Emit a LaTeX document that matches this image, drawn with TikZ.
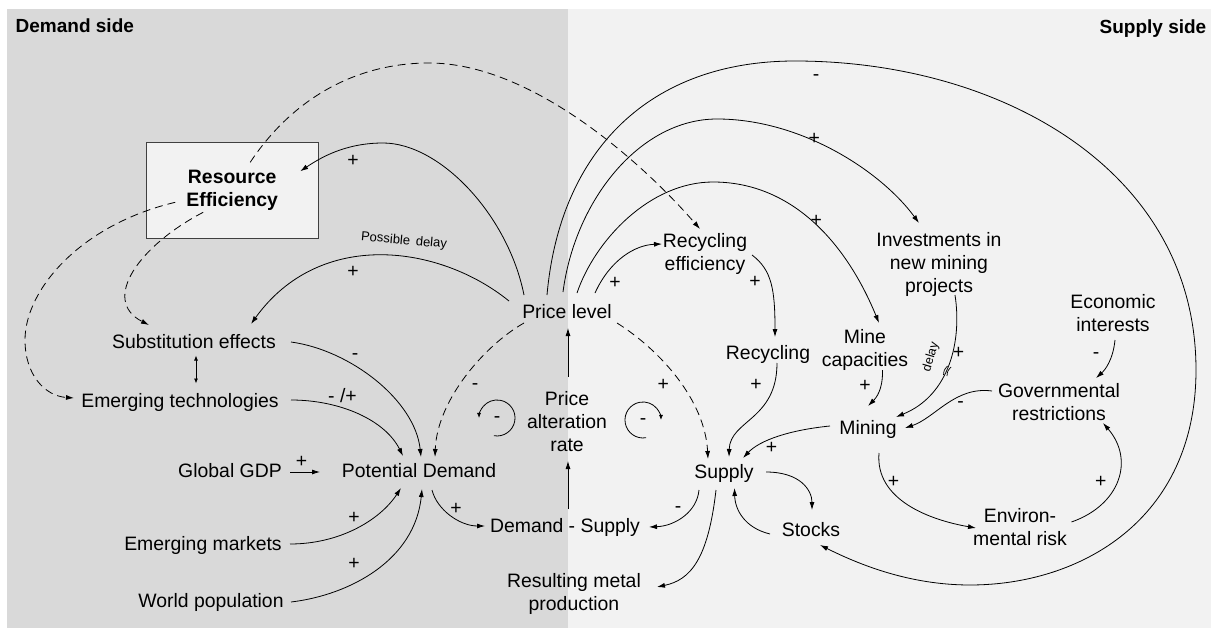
\documentclass[tikz,border=0pt]{standalone}
\usepackage{fontspec}
\setmainfont{Liberation Sans}
\usetikzlibrary{arrows.meta,calc}
\definecolor{demandbg}{HTML}{D9D9D9}
\definecolor{supplybg}{HTML}{F2F2F2}
\definecolor{boxline}{HTML}{404040}

\begin{document}
\begin{tikzpicture}[x=1pt,y=-1pt,
  txt/.style={font=\fontsize{19.4}{23}\selectfont, align=center, anchor=base, inner sep=0pt},
  sgn/.style={font=\fontsize{19.4}{23}\selectfont, inner sep=0pt},
  small/.style={font=\fontsize{13}{15}\selectfont, inner sep=0pt},
  conn/.style={line width=0.8pt, -{Latex[length=8pt,width=5pt]}},
  dconn/.style={conn, dash pattern=on 8pt off 5pt},
  loopar/.style={line width=0.8pt, -{Latex[length=5pt,width=4pt]}},
  twoway/.style={line width=0.8pt, {Latex[length=5pt,width=4pt]}-{Latex[length=5pt,width=4pt]}}
]
\useasboundingbox (0,0) rectangle (1211,629);
\fill[white] (0,0) rectangle (1211,629);
% the two halves of the diagram
\fill[demandbg] (7,9) rectangle (568,628);
\fill[supplybg] (568,9) rectangle (1211,628);

\node[txt, anchor=base west, font=\fontsize{19}{23}\selectfont\bfseries] (dside) at (15.5,32.3) {Demand side};
\node[txt, anchor=base east, font=\fontsize{19}{23}\selectfont\bfseries] (sside) at (1206.5,33) {Supply side};

% variables (the base of a multi-line node is the baseline of its last line)
\node[draw=boxline, fill=supplybg, line width=0.8pt, minimum width=172pt, minimum height=96pt,
      inner sep=0pt, align=center, font=\fontsize{19.4}{23}\selectfont\bfseries] (re) at (232.2,190.3) {Resource\\Efficiency};
\node[txt] (se)  at (194,348)  {Substitution effects};
\node[txt] (et)  at (180,407)  {Emerging technologies};
\node[txt] (pl)  at (567,318)  {Price level};
\node[txt] (par) at (567,451)  {Price\\alteration\\rate};
\node[txt] (gdp) at (230,477)  {Global GDP};
\node[txt] (pd)  at (419,477)  {Potential Demand};
\node[txt] (em)  at (203,550)  {Emerging markets};
\node[txt] (wp)  at (211,607)  {World population};
\node[txt] (ds)  at (565,532)  {Demand - Supply};
\node[txt] (rmp) at (574,610)  {Resulting metal\\production};
\node[txt] (su)  at (724,478)  {Supply};
\node[txt] (st)  at (811,536)  {Stocks};
\node[txt] (ref) at (705,270)  {Recycling\\efficiency};
\node[txt] (rec) at (768,359)  {Recycling};
\node[txt] (mc)  at (865,366)  {Mine\\capacities};
\node[txt] (inv) at (939,292)  {Investments in\\new mining\\projects};
\node[txt] (ei)  at (1113,331) {Economic\\interests};
\node[txt] (gr)  at (1059,420) {Governmental\\restrictions};
\node[txt] (mi)  at (868,434)  {Mining};
\node[txt] (er)  at (1020,545) {Environ-\\mental risk};

% dashed links out of resource efficiency
\draw[dconn] ($(re.center)+(18,-28)$) .. controls (295,95) and (360,63) .. (429,63)
   .. controls (530,63) and (640,160) .. ($(ref.base)+(-5,-41)$);
\draw[dconn] ($(re.center)+(-29,22)$) .. controls (140,245) and (100,300) .. ($(se.base)+(-45,-23)$);
\draw[dconn] ($(re.center)+(-57,12)$) .. controls (80,225) and (25,290) .. (25,340)
   .. controls (25,375) and (45,396) .. ($(et.base)+(-106,-9)$);

% links out of the price level
\draw[conn] ($(pl.base)+(-43,-23)$) .. controls (508,215) and (440,143) .. (383,143)
   .. controls (345,143) and (320,158) .. ($(re.center)+(68,-19)$);
\draw[conn] ($(pl.base)+(-58,-17)$) .. controls (440,245) and (320,228) .. ($(se.base)+(57,-24)$);
\draw[conn] ($(pl.base)+(-20,-23)$) .. controls (560,150) and (650,61) .. (795,61)
   .. controls (1000,61) and (1196,170) .. (1196,370)
   .. controls (1196,520) and (1080,585) .. (970,585)
   .. controls (910,585) and (860,565) .. ($(st.base)+(9,9)$);
\draw[conn] ($(pl.base)+(-4,-26)$) .. controls (575,200) and (640,119) .. (717,119)
   .. controls (800,119) and (880,170) .. ($(inv.base)+(-20,-69)$);
\draw[conn] ($(pl.base)+(10,-25)$) .. controls (595,240) and (650,182) .. (713,182)
   .. controls (790,182) and (845,240) .. ($(mc.base)+(14,-43)$);
\draw[conn] ($(pl.base)+(28,-25)$) .. controls (610,260) and (635,245) .. ($(ref.base)+(-43,-26)$);
\draw[dconn] ($(pl.base)+(50,5)$) .. controls (660,350) and (705,400) .. ($(su.base)+(-16,-19)$);
\draw[dconn] ($(pl.base)+(-43,5)$) .. controls (485,345) and (437,400) .. ($(pd.base)+(16,-20)$);

% price adjustment chain
\draw[conn] ($(par.base)+(1,-74)$) -- ($(pl.base)+(1,10)$);
\draw[conn] ($(ds.base)+(3,-23)$) -- ($(par.base)+(1,10)$);

% demand side
\draw[twoway] ($(se.base)+(2,7.5)$) -- ($(et.base)+(16,-23.5)$);
\draw[conn] ($(se.base)+(97,-6)$) .. controls (350,350) and (415,400) .. ($(pd.base)+(2,-20)$);
\draw[conn] ($(et.base)+(111,-7)$) .. controls (340,400) and (385,420) .. ($(pd.base)+(-16,-21)$);
\draw[conn] ($(gdp.base)+(60,-5)$) -- ($(pd.base)+(-99,-5)$);
\draw[conn] ($(em.base)+(87,-6)$) .. controls (340,544) and (380,520) .. ($(pd.base)+(-18,11)$);
\draw[conn] ($(wp.base)+(80,-5)$) .. controls (350,595) and (415,560) .. ($(pd.base)+(3,12)$);
\draw[conn] ($(pd.base)+(13,13)$) .. controls (437,510) and (460,526) .. ($(ds.base)+(-80,-6)$);

% supply side
\draw[conn] ($(ref.base)+(47,-15)$) .. controls (772,270) and (775,290) .. ($(rec.base)+(7,-22)$);
\draw[conn] ($(rec.base)+(9,4)$) .. controls (777,420) and (730,420) .. ($(su.base)+(5,-21)$);
\draw[conn] ($(su.base)+(-25,12)$) .. controls (697,512) and (675,526) .. ($(ds.base)+(84,-5)$);
\draw[conn] ($(su.base)+(-8,12)$) .. controls (708,560) and (690,580) .. ($(rmp.base)+(83,-23)$);
\draw[conn] ($(su.base)+(42,-6)$) .. controls (800,472) and (812,490) .. ($(st.base)+(1,-26)$);
\draw[conn] ($(st.base)+(-41,-2)$) .. controls (745,528) and (735,510) .. ($(su.base)+(10.5,10)$);
\draw[conn] ($(mi.base)+(-38,-8)$) .. controls (790,430) and (760,440) .. ($(su.base)+(19,-20)$);
\draw[conn] ($(mc.base)+(17.5,4)$) .. controls (883,390) and (876,398) .. ($(mi.base)+(0,-28)$);
\draw[conn] ($(inv.base)+(16,3)$) .. controls (962,340) and (950,395) .. ($(mi.base)+(28,-17)$);
\draw[conn] ($(gr.base)+(-67,-29)$) .. controls (955,386) and (935,418) .. ($(mi.base)+(37,-6)$);
\draw[conn] ($(ei.base)+(2,9)$) .. controls (1113,360) and (1105,370) .. ($(gr.base)+(37,-42)$);
\draw[conn] ($(mi.base)+(11,19)$) .. controls (875,500) and (930,520) .. ($(er.base)+(-44,-17)$);
\draw[conn] ($(er.base)+(51.5,-23)$) .. controls (1120,505) and (1135,460) .. ($(gr.base)+(44,3)$);

% delay mark on the investment link
\draw[line width=0.7pt] (943.5,375) .. controls (944,370) .. (947.5,366);
\draw[line width=0.7pt] (947,376) .. controls (947.5,371) .. (951,367);
\node[small, rotate=74, font=\fontsize{12.5}{14}\selectfont] (dly) at (931,357) {delay};
\node[small, rotate=-5] (pdel) at (404,241) {Possible\hspace{0.45em}delay};

% balancing loop markers
\node[sgn] (loopL) at (497,420) {-};
\draw[loopar] ([shift={(-3.1,15.7)}]loopL.center) arc[start angle=100, end angle=-180, radius=18];
\node[sgn] (loopR) at (643,422) {-};
\draw[loopar] ([shift={(3.1,15.7)}]loopR.center) arc[start angle=80, end angle=360, radius=18];

% polarity signs
\node[sgn] (s1)  at (353,161)     {+};
\node[sgn] (s2)  at (353,272)     {+};
\node[sgn] (s3)  at (355,357)     {-};
\node[sgn] (s4)  at (342.5,396)   {- /+};
\node[sgn] (s5)  at (475,386.3)   {-};
\node[sgn] (s6)  at (301.6,462.3) {+};
\node[sgn] (s7)  at (354,518.3)   {+};
\node[sgn] (s8)  at (354,564.3)   {+};
\node[sgn] (s9)  at (456,509)     {+};
\node[sgn] (s10) at (663.3,385)   {+};
\node[sgn] (s11) at (615,282.7)   {+};
\node[sgn] (s12) at (755,281.7)   {+};
\node[sgn] (s13) at (756,385)     {+};
\node[sgn] (s14) at (865,386)     {+};
\node[sgn] (s15) at (771.5,447.7) {+};
\node[sgn] (s16) at (678,509.3)   {-};
\node[sgn] (s17) at (958.5,353.3) {+};
\node[sgn] (s18) at (960.5,404.3) {-};
\node[sgn] (s19) at (1096,356)    {-};
\node[sgn] (s20) at (893.5,481.7) {+};
\node[sgn] (s21) at (1100.8,481.7){+};
\node[sgn] (s22) at (816,78)      {-};
\node[sgn] (s23) at (814.3,139.3) {+};
\node[sgn] (s24) at (816.3,221)   {+};
\end{tikzpicture}
\end{document}
